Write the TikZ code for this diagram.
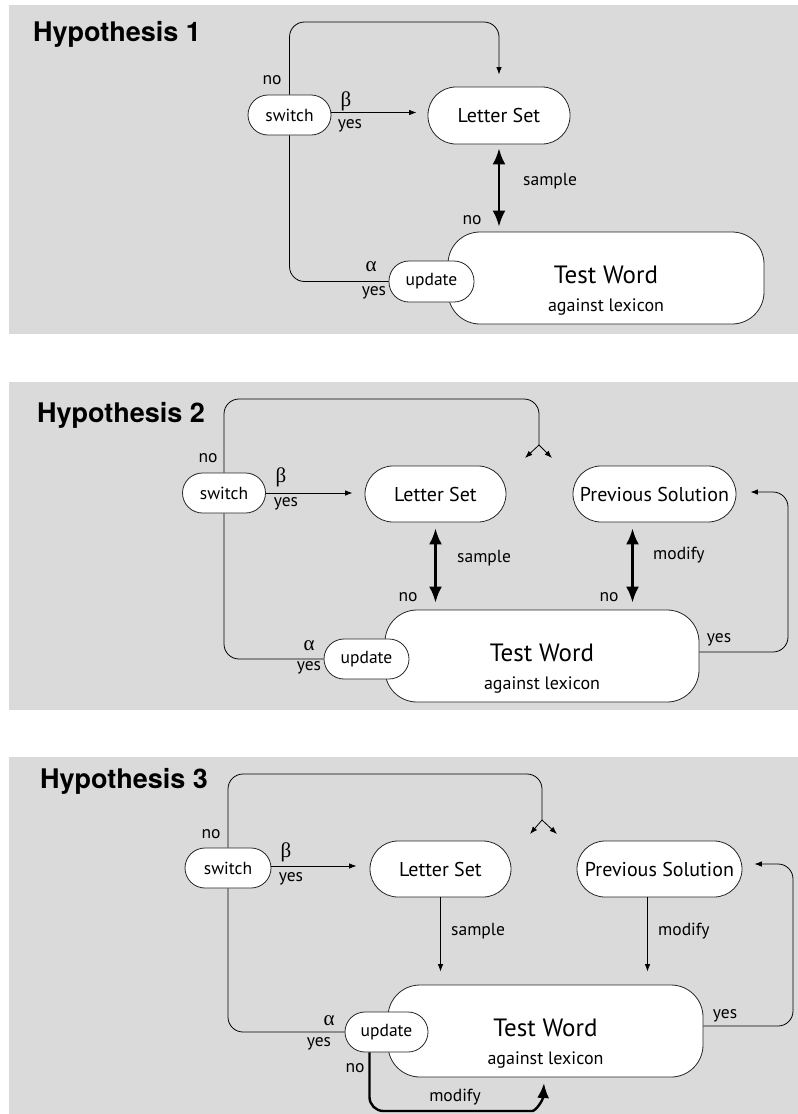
\documentclass[tikz,border=0pt]{standalone}
\usepackage{fontspec}
\setmainfont{PT Sans}
\newfontfamily\titlefont{TeX Gyre Heros}
\newfontfamily\greekfont{Liberation Serif}
\usetikzlibrary{arrows.meta, positioning, calc}
\definecolor{panelgray}{RGB}{218,218,218}

\begin{document}
\begin{tikzpicture}[
        x=1pt, y=-1pt,
        panel/.style={fill=panelgray, draw=none},
        title/.style={font=\titlefont\bfseries\fontsize{27}{30}\selectfont, anchor=base west, inner sep=0pt},
        pill/.style={rectangle, draw=black!85, fill=white, line width=0.8pt, rounded corners=20pt, inner sep=0pt, minimum height=40pt, font=\fontsize{17.5}{20}\selectfont},
        setbox/.style={pill, rounded corners=28pt, minimum height=56pt, font=\fontsize{20}{24}\selectfont},
        testbox/.style={rectangle, draw=black!85, fill=white, line width=0.8pt, rounded corners=32pt, minimum width=315pt, minimum height=92pt},
        twtext/.style={align=center, inner sep=0pt, font=\fontsize{25}{27}\selectfont},
        lbl/.style={inner sep=0pt, font=\fontsize{17.5}{20}\selectfont},
        greek/.style={inner sep=0pt, font=\greekfont\fontsize{21}{24}\selectfont},
        line/.style={line width=0.8pt, rounded corners=15pt},
        arrow/.style={line, -{Latex[length=7.5pt, width=5.5pt]}},
        bigarrow/.style={line width=2.6pt, {Latex[length=16pt, width=13pt]}-{Latex[length=16pt, width=13pt]}},
        modarrow/.style={line width=2.4pt, rounded corners=14pt, -{Latex[length=15pt, width=12pt]}}
    ]
    \newcommand{\testword}{Test Word\\[1pt]{\fontsize{18}{27}\selectfont against lexicon}}

    \fill[white] (0,0) rectangle (798,1114);
    \useasboundingbox (0,0) rectangle (798,1114);

    % Hypothesis 1
    \fill[panel] (9,5) rectangle (798,334);
    \node[title] (head1) at (33,41) {Hypothesis 1};
    \node[pill, minimum width=83pt] (switch1) at (289.5,115) {switch};
    \node[setbox, minimum width=142pt, minimum height=57pt] (letters1) at (499,115.5) {Letter Set};
    \node[testbox, minimum width=316pt] (test1) at (606,278) {};
    \node[twtext] (testtext1) at ([yshift=-13pt]test1.center) {\testword};
    \node[pill, minimum width=85pt, minimum height=41pt] (update1) at (431.5,281.5) {update};
    \coordinate (top1) at (0,22);

    \draw[arrow] ([yshift=2.5pt]switch1.east) -- ([xshift=-11pt, yshift=2.5pt]switch1.east -| letters1.west);
    \draw[arrow] (switch1.north) -- (switch1.north |- top1) -- (letters1.north |- top1) -- ([yshift=12pt]letters1.north);
    \draw[line] (switch1.south) |- (update1.west);
    \draw[bigarrow] ([yshift=-4pt]letters1.south) -- ([yshift=5pt]letters1.south |- test1.north);

    \node[lbl] (no1a) at (272,80) {no};
    \node[greek] (beta1) at (346,101) {β};
    \node[lbl] (yes1a) at (350,126) {yes};
    \node[lbl, anchor=west] (sample1) at (523,181) {sample};
    \node[lbl] (no1b) at (472,220) {no};
    \node[greek] (alpha1) at (371,267) {α};
    \node[lbl] (yes1b) at (374,293) {yes};

    % Hypothesis 2
    \fill[panel] (9,382) rectangle (798,710);
    \node[title] (head2) at (37,422) {Hypothesis 2};
    \node[pill, minimum width=83pt] (switch2) at (224,493) {switch};
    \node[setbox, minimum width=141pt] (letters2) at (435.5,494) {Letter Set};
    \node[setbox, minimum width=163pt] (prev2) at (654.5,494) {Previous Solution};
    \node[testbox, minimum width=314pt] (test2) at (542,656) {};
    \node[twtext] (testtext2) at ([yshift=-13pt]test2.center) {\testword};
    \node[pill, minimum width=85pt] (update2) at (366.5,659) {update};
    \coordinate (top2) at (0,399);
    \coordinate (fork2) at (539,445);
    \coordinate (forkl2) at (525,458);
    \coordinate (forkr2) at (552,458);
    \coordinate (right2) at (788,0);

    \draw[arrow] (switch2.east) -- ([xshift=-12pt]switch2.east -| letters2.west);
    \draw[line] (switch2.north) -- (switch2.north |- top2) -- (fork2 |- top2) -- (fork2);
    \draw[arrow] (fork2) -- (forkl2);
    \draw[arrow] (fork2) -- (forkr2);
    \draw[line] (switch2.south) |- (update2.west);
    \draw[bigarrow] ([yshift=-6pt]letters2.south) -- ([yshift=7pt]letters2.south |- test2.north);
    \draw[bigarrow] ([xshift=-22pt, yshift=-6pt]prev2.south) -- ([xshift=-22pt, yshift=7pt]prev2.south |- test2.north);
    \draw[arrow] ([yshift=4pt]test2.east) -| ([yshift=2pt]right2 |- prev2.east) -- ([xshift=14pt, yshift=2pt]prev2.east);

    \node[lbl] (no2a) at (208,458) {no};
    \node[greek] (beta2) at (281,477) {β};
    \node[lbl] (yes2a) at (286,504) {yes};
    \node[lbl, anchor=west] (sample2) at (457,558) {sample};
    \node[lbl, anchor=west] (modify2) at (653,555) {modify};
    \node[lbl] (no2b) at (408,597) {no};
    \node[lbl] (no2c) at (609,597) {no};
    \node[greek] (alpha2) at (309,646) {α};
    \node[lbl] (yes2b) at (309,668) {yes};
    \node[lbl] (yes2c) at (719,640) {yes};

    % Hypothesis 3
    \fill[panel] (9,757) rectangle (798,1114);
    \node[title] (head3) at (40,788) {Hypothesis 3};
    \node[pill, minimum width=86pt] (switch3) at (228,868) {switch};
    \node[setbox, minimum width=141pt] (letters3) at (440.5,869) {Letter Set};
    \node[setbox, minimum width=165pt] (prev3) at (659.5,869) {Previous Solution};
    \node[testbox, minimum width=315pt] (test3) at (545.5,1031) {};
    \node[twtext] (testtext3) at ([yshift=-13pt]test3.center) {\testword};
    \node[pill, minimum width=83pt] (update3) at (386.5,1032) {update};
    \coordinate (top3) at (0,774);
    \coordinate (fork3) at (542,820);
    \coordinate (forkl3) at (530,834);
    \coordinate (forkr3) at (557,834);
    \coordinate (right3) at (793,0);
    \coordinate (modmid3) at (518,1111);
    \coordinate (modtip3) at (544,1083);

    \draw[arrow] ([yshift=2pt]switch3.east) -- ([xshift=-13pt, yshift=2pt]switch3.east -| letters3.west);
    \draw[line] (switch3.north) -- (switch3.north |- top3) -- (fork3 |- top3) -- (fork3);
    \draw[arrow] (fork3) -- (forkl3);
    \draw[arrow] (fork3) -- (forkr3);
    \draw[line] (switch3.south) |- (update3.west);
    \draw[arrow] (letters3.south) -- ([yshift=13pt]letters3.south |- test3.north);
    \draw[arrow] ([xshift=-12pt]prev3.south) -- ([xshift=-12pt, yshift=13pt]prev3.south |- test3.north);
    \draw[arrow] ([yshift=5pt]test3.east) -| ([yshift=5pt]right3 |- prev3.east) -- ([xshift=12pt, yshift=5pt]prev3.east);
    \draw[modarrow] ([xshift=-17pt]update3.south) |- (modmid3) .. controls (536,1111) and (543,1100) .. (modtip3);

    \node[lbl] (no3a) at (211,834) {no};
    \node[greek] (beta3) at (286,852) {β};
    \node[lbl] (yes3a) at (291,879) {yes};
    \node[lbl, anchor=west] (sample3) at (451,931) {sample};
    \node[lbl, anchor=west] (modify3) at (658,931) {modify};
    \node[greek] (alpha3) at (329,1021) {α};
    \node[lbl] (yes3b) at (319,1044) {yes};
    \node[lbl] (no3b) at (355,1068) {no};
    \node[lbl] (modify3b) at (455,1097) {modify};
    \node[lbl] (yes3c) at (725,1016) {yes};

\end{tikzpicture}
\end{document}
